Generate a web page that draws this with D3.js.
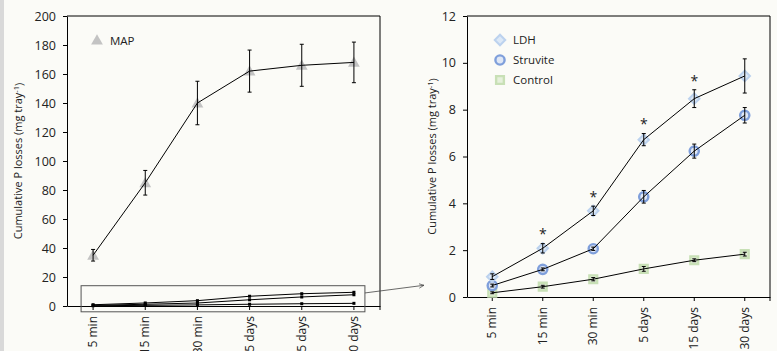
<!DOCTYPE html>
<html>
<head>
<meta charset="utf-8">
<script src="https://cdn.jsdelivr.net/npm/d3@7"></script>
<style>
  html, body { margin: 0; padding: 0; background: #fbfbf7; }
  svg { display: block; }
  text { font-family: "Open Sans", "Noto Sans", sans-serif; fill: #222; }
</style>
</head>
<body>
<div id="graph"></div>
<script>
// time points shared by both panels
var categories = ["5 min", "15 min", "30 min", "5 days", "15 days", "30 days"];

// MAP (left panel)
var mapValues = [35, 85, 140, 162, 166, 168];
var mapErrors = [4, 8.5, 15, 14.5, 14.5, 14];

// right panel series
var ldhValues = [0.87, 2.08, 3.68, 6.72, 8.47, 9.44];
var ldhErrors = [0.12, 0.2, 0.2, 0.26, 0.38, 0.73];
var struviteValues = [0.49, 1.18, 2.06, 4.28, 6.23, 7.76];
var struviteErrors = [0.06, 0.06, 0.07, 0.27, 0.3, 0.33];
var controlValues = [0.18, 0.44, 0.76, 1.2, 1.57, 1.83];
var controlErrors = [0.04, 0.06, 0.07, 0.1, 0.06, 0.08];

// time points marked with * (LDH vs others)
var significant = ["15 min", "30 min", "5 days", "15 days"];

var leftTicks = [0, 20, 40, 60, 80, 100, 120, 140, 160, 180, 200];
var rightTicks = [0, 2, 4, 6, 8, 10, 12];

var width = 777, height = 351;

var svg = d3.select("#graph").append("svg")
    .attr("width", width)
    .attr("height", height);

// grey strip on the left edge
svg.append("rect")
    .attr("x", 0).attr("y", 0)
    .attr("width", 4).attr("height", height)
    .attr("fill", "#d9d9d9");

// scales
var xL = d3.scaleBand().domain(categories).range([67, 380]);
var yL = d3.scaleLinear().domain([0, 200]).range([306, 16]);
var xR = d3.scaleBand().domain(categories).range([467, 770]);
var yR = d3.scaleLinear().domain([0, 12]).range([297, 16]);

function cx(x, c) { return x(c) + x.bandwidth() / 2; }

function makeSeries(values, errors) {
    return categories.map(function(c, i) {
        return { cat: c, v: values[i], e: errors[i] };
    });
}

var mapData = makeSeries(mapValues, mapErrors);
var ldhData = makeSeries(ldhValues, ldhErrors);
var struviteData = makeSeries(struviteValues, struviteErrors);
var controlData = makeSeries(controlValues, controlErrors);

function drawAxes(g, x, y, ticks, yTitleX) {
    // y axis
    g.append("g")
        .attr("transform", "translate(" + x.range()[0] + ",0)")
        .call(d3.axisLeft(y).tickValues(ticks).tickSize(4).tickSizeOuter(0).tickPadding(7))
        .call(function(a) {
            a.select(".domain").attr("stroke", "#000");
            a.selectAll(".tick line").attr("stroke", "#000");
            a.selectAll(".tick text").style("font-size", "12.5px").attr("fill", "#222");
        });
    // x axis
    g.append("g")
        .attr("transform", "translate(0," + y.range()[0] + ")")
        .call(d3.axisBottom(x).tickSize(4).tickSizeOuter(0))
        .call(function(a) {
            a.select(".domain").attr("stroke", "#000");
            a.selectAll(".tick line").attr("stroke", "#000");
            a.selectAll(".tick text")
                .style("font-size", "12px")
                .attr("fill", "#222")
                .attr("text-anchor", "end")
                .attr("transform", "rotate(-90)")
                .attr("x", -10)
                .attr("y", 0)
                .attr("dy", "0.35em");
        });
    // frame (top and right edges)
    g.append("path")
        .attr("d", "M" + x.range()[0] + "," + y.range()[1] +
                   "H" + x.range()[1] + "V" + (y.range()[0] + 4))
        .attr("fill", "none")
        .attr("stroke", "#000");
    // y title
    var t = g.append("text")
        .attr("transform", "translate(" + yTitleX + "," + ((y.range()[0] + y.range()[1]) / 2) + ") rotate(-90)")
        .attr("text-anchor", "middle")
        .attr("dy", "0.35em")
        .style("font-size", "11px");
    t.append("tspan").text("Cumulative P losses (mg tray");
    t.append("tspan").attr("dy", "-0.4em").style("font-size", "7.5px").text("-1");
    t.append("tspan").attr("dy", "0.4em").text(")");
}

function drawLine(g, data, x, y) {
    g.append("path")
        .datum(data)
        .attr("fill", "none")
        .attr("stroke", "#000")
        .attr("stroke-width", 1)
        .attr("d", d3.line()
            .x(function(d) { return cx(x, d.cat); })
            .y(function(d) { return y(d.v); }));
}

function drawErrors(g, data, x, y) {
    var eb = g.append("g").attr("stroke", "#000").attr("stroke-width", 1);
    data.forEach(function(d) {
        var px = cx(x, d.cat);
        eb.append("line").attr("x1", px).attr("x2", px)
            .attr("y1", y(d.v - d.e)).attr("y2", y(d.v + d.e));
        eb.append("line").attr("x1", px - 2).attr("x2", px + 2)
            .attr("y1", y(d.v - d.e)).attr("y2", y(d.v - d.e));
        eb.append("line").attr("x1", px - 2).attr("x2", px + 2)
            .attr("y1", y(d.v + d.e)).attr("y2", y(d.v + d.e));
    });
}

var triangle = d3.symbol().type(d3.symbolTriangle).size(60);
var diamond = d3.symbol().type(d3.symbolSquare).size(55);
var square = d3.symbol().type(d3.symbolSquare).size(60);

function drawMarkers(g, data, x, y, kind) {
    data.forEach(function(d) {
        var px = cx(x, d.cat), py = y(d.v);
        addMarker(g, px, py, kind);
    });
}

function addMarker(g, px, py, kind) {
    if (kind === "map") {
        g.append("path").attr("d", triangle())
            .attr("transform", "translate(" + px + "," + (py + 1) + ")")
            .attr("fill", "#c3c3c3");
    } else if (kind === "ldh") {
        g.append("path").attr("d", diamond())
            .attr("transform", "translate(" + px + "," + py + ") rotate(45)")
            .attr("fill", "#dce8f6")
            .attr("stroke", "#bcd2ee")
            .attr("stroke-width", 2);
    } else if (kind === "struvite") {
        g.append("circle").attr("cx", px).attr("cy", py).attr("r", 4.6)
            .attr("fill", "#dfe7f5")
            .attr("stroke", "#7f9fdb")
            .attr("stroke-width", 2.4);
    } else if (kind === "control") {
        g.append("path").attr("d", square())
            .attr("transform", "translate(" + px + "," + py + ")")
            .attr("fill", "#e6f0dc")
            .attr("stroke", "#c8e0b6")
            .attr("stroke-width", 2.4);
    } else if (kind === "dot") {
        g.append("rect").attr("x", px - 1.5).attr("y", py - 1.5)
            .attr("width", 3).attr("height", 3).attr("fill", "#000");
    }
}

// ---------- left panel ----------
var left = svg.append("g");
drawAxes(left, xL, yL, leftTicks, 18);

[ldhData, struviteData, controlData].forEach(function(s) {
    drawLine(left, s, xL, yL);
    drawMarkers(left, s, xL, yL, "dot");
});

drawMarkers(left, mapData, xL, yL, "map");
drawLine(left, mapData, xL, yL);
drawErrors(left, mapData, xL, yL);

// inset box around the small series
var boxX0 = cx(xL, categories[0]) - 12,
    boxX1 = cx(xL, categories[categories.length - 1]) + 11;
left.append("rect")
    .attr("x", boxX0).attr("y", yL(14))
    .attr("width", boxX1 - boxX0).attr("height", yL(-4) - yL(14))
    .attr("fill", "none")
    .attr("stroke", "#555")
    .attr("stroke-width", 1);

// arrow to the right panel
svg.append("defs").append("marker")
    .attr("id", "arrow")
    .attr("viewBox", "0 0 10 10")
    .attr("refX", 9).attr("refY", 5)
    .attr("markerWidth", 7).attr("markerHeight", 7)
    .attr("orient", "auto")
    .append("path")
    .attr("d", "M0,1 L9,5 L0,9")
    .attr("fill", "none")
    .attr("stroke", "#444")
    .attr("stroke-width", 1.2);

svg.append("line")
    .attr("x1", boxX1).attr("y1", yL(9))
    .attr("x2", xR.range()[0] - 43).attr("y2", yR(0.5))
    .attr("stroke", "#444")
    .attr("stroke-width", 0.8)
    .attr("marker-end", "url(#arrow)");

// legend left
addMarker(left, 97, 40, "map");
left.append("text").attr("x", 110).attr("y", 41).attr("dy", "0.35em")
    .style("font-size", "11.5px").text("MAP");

// ---------- right panel ----------
var right = svg.append("g");
drawAxes(right, xR, yR, rightTicks, 432);

drawMarkers(right, controlData, xR, yR, "control");
drawMarkers(right, struviteData, xR, yR, "struvite");
drawMarkers(right, ldhData, xR, yR, "ldh");
[ldhData, struviteData, controlData].forEach(function(s) {
    drawLine(right, s, xR, yR);
    drawErrors(right, s, xR, yR);
});

// significance stars above LDH error bars
ldhData.filter(function(d) { return significant.indexOf(d.cat) >= 0; })
    .forEach(function(d) {
        right.append("text")
            .attr("x", cx(xR, d.cat))
            .attr("y", yR(d.v + d.e + 0.6))
            .attr("text-anchor", "middle")
            .attr("dy", "0.7em")
            .style("font-size", "14px")
            .text("*");
    });

// legend right
var legendItems = [
    { label: "LDH", kind: "ldh" },
    { label: "Struvite", kind: "struvite" },
    { label: "Control", kind: "control" }
];
legendItems.forEach(function(item, i) {
    var ly = 40 + i * 20;
    addMarker(right, 500, ly, item.kind);
    right.append("text").attr("x", 513).attr("y", ly).attr("dy", "0.35em")
        .style("font-size", "11.5px").text(item.label);
});
</script>
</body>
</html>
